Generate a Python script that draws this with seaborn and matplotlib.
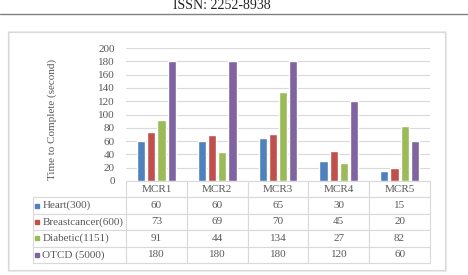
import matplotlib
matplotlib.use("Agg")
import matplotlib.pyplot as plt
import matplotlib.patches as mpatches
from matplotlib.lines import Line2D
from matplotlib.table import Table
import seaborn as sns
import pandas as pd

categories = ["MCR1", "MCR2", "MCR3", "MCR4", "MCR5"]
series_names = ["Heart(300)", "Breastcancer(600)", "Diabetic(1151)", "OTCD (5000)"]
heart = [60, 60, 65, 30, 15]
breast = [73, 69, 70, 45, 20]
diabetic = [91, 44, 134, 27, 82]
otcd = [180, 180, 180, 120, 60]
yticks = [0, 20, 40, 60, 80, 100, 120, 140, 160, 180, 200]
colors = ["#4F81BD", "#C0504D", "#9BBB59", "#8064A2"]

all_vals = [heart, breast, diabetic, otcd]
rows = []
for name, vals in zip(series_names, all_vals):
    for c, v in zip(categories, vals):
        rows.append({"cat": c, "series": name, "value": v})
df = pd.DataFrame(rows)

sns.set_theme(style="white")
plt.rcParams["font.family"] = ["Liberation Serif", "DejaVu Serif"]
TXT = "#595959"
GRID = "#D9D9D9"

W, H = 468, 275
fig = plt.figure(figsize=(W / 100, H / 100), dpi=100)
fig.patch.set_facecolor("white")

def fx(px):
    return px / W

def fy(py):
    return 1 - py / H

ax_l, ax_r, ax_t, ax_b = 126, 430, 48, 181
ax = fig.add_axes([fx(ax_l), fy(ax_b), (ax_r - ax_l) / W, (ax_b - ax_t) / H])

sns.barplot(data=df, x="cat", y="value", hue="series", hue_order=series_names,
            order=categories, palette=colors, saturation=1, width=0.67, gap=0.2,
            legend=False, ax=ax, zorder=3)

ax.set_ylim(0, 200)
ax.set_xlim(-0.5, 4.5)
ax.set_yticks(yticks)
ax.set_yticklabels([str(t) for t in yticks], fontsize=8, color=TXT)
ax.set_xticks([])
ax.set_xlabel("")
ax.set_ylabel("Time to Complete (second)", fontsize=8, color=TXT)
ax.yaxis.set_label_coords(-0.228, 0.46)
ax.tick_params(axis="y", length=0, pad=8)
ax.grid(axis="y", color=GRID, linewidth=0.8, zorder=0)
ax.set_axisbelow(True)
for s in ax.spines.values():
    s.set_visible(False)

# data table
axes_w = ax_r - ax_l
axes_h = ax_b - ax_t
label_w_px = ax_l - 33
table_h_px = 263 - 181
tb_y0 = -table_h_px / axes_h
tb_h = table_h_px / axes_h
nrows = len(series_names) + 1
row_h = tb_h / nrows
col_w = 1.0 / len(categories)
lab_w = label_w_px / axes_w

# bbox covers the data grid (header + values); row labels sit to its left
tbl = Table(ax, bbox=[0, tb_y0, 1, tb_h])
for j, c in enumerate(categories):
    tbl.add_cell(0, j, width=col_w, height=row_h, text=c, loc="center")
for i, (name, vals) in enumerate(zip(series_names, all_vals)):
    tbl.add_cell(i + 1, -1, width=lab_w, height=row_h, text=name, loc="left")
    for j, v in enumerate(vals):
        tbl.add_cell(i + 1, j, width=col_w, height=row_h, text=str(v), loc="center")
tbl.auto_set_font_size(False)
tbl.set_fontsize(8)
for (r, c), cell in tbl.get_celld().items():
    cell.set_edgecolor(GRID)
    cell.set_linewidth(0.8)
    cell.get_text().set_color(TXT)
ax.add_table(tbl)

for i, col in enumerate(colors):
    yc = tb_y0 + tb_h * (1 - (i + 1.5) / nrows)
    ax.plot([(37.5 - ax_l) / axes_w], [yc], marker="s", markersize=3.0,
            color=col, transform=ax.transAxes, clip_on=False, zorder=5)

# chart border
fig.add_artist(mpatches.Rectangle((fx(9), fy(271)), fx(446) - fx(9), fy(32) - fy(271),
                                  transform=fig.transFigure, facecolor="none",
                                  edgecolor="#EBEBEB", linewidth=1.5))
fig.add_artist(mpatches.Rectangle((fx(8), fy(270)), fx(445) - fx(8), fy(32) - fy(270),
                                  transform=fig.transFigure, facecolor="none",
                                  edgecolor="#D9D9D9", linewidth=0.8))

# page header
fig.text(fx(222), fy(9), "ISSN: 2252-8938", ha="center", va="baseline",
         fontsize=10, color="#222222")
fig.add_artist(Line2D([0, 1], [fy(13.5), fy(13.5)], transform=fig.transFigure,
                      color="#808080", linewidth=1))

fig.savefig("out.png", dpi=100)
